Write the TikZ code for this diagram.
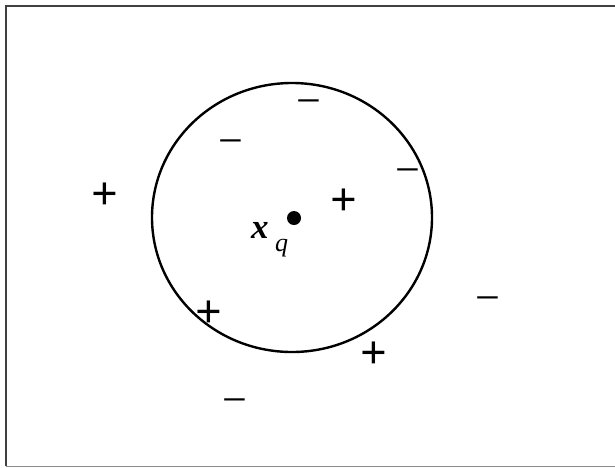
\documentclass[tikz,border=0pt]{standalone}
\usepackage{fontspec}
\setmainfont{Liberation Serif}
\begin{document}
\begin{tikzpicture}[x=1pt,y=-1pt,
  sym/.style={inner sep=0pt,font=\fontsize{47}{47}\selectfont\bfseries,text height=0.5em,text depth=0pt,yshift=-13.5pt},
  neg/.style={sym,font=\fontsize{44}{44}\selectfont\mdseries},
  lbl/.style={inner sep=0pt,anchor=base west}]
\useasboundingbox (0,0) rectangle (615,467);
\fill[white] (0,0) rectangle (615,467);
\begin{scope}
\clip (0,0) rectangle (615,467);
\draw[line width=1.6pt,black!75] (6,466) -- (6,6) -- (625,6);
\draw[line width=1pt,black!45] (6,466) -- (625,466);
\end{scope}
\draw[line width=2.4pt] (292,217.5) ellipse [x radius=140, y radius=134.5];
\fill (294,218) circle [radius=7];
\node[lbl,font=\fontsize{35}{35}\selectfont\bfseries\itshape] (x) at (251,238) {x};
\node[lbl,font=\fontsize{26}{26}\selectfont\itshape] (q) at (275,251) {q};
\node[sym] (p1) at (105,193) {+};
\node[sym] (p2) at (344,199) {+};
\node[sym] (p3) at (208.5,311) {+};
\node[sym] (p4) at (374,352) {+};
\node[neg] (m1) at (308.5,99) {−};
\node[neg] (m2) at (231,139) {−};
\node[neg] (m3) at (407.5,168) {−};
\node[neg] (m4) at (488,296) {−};
\node[neg] (m5) at (235,398) {−};
\end{tikzpicture}
\end{document}
